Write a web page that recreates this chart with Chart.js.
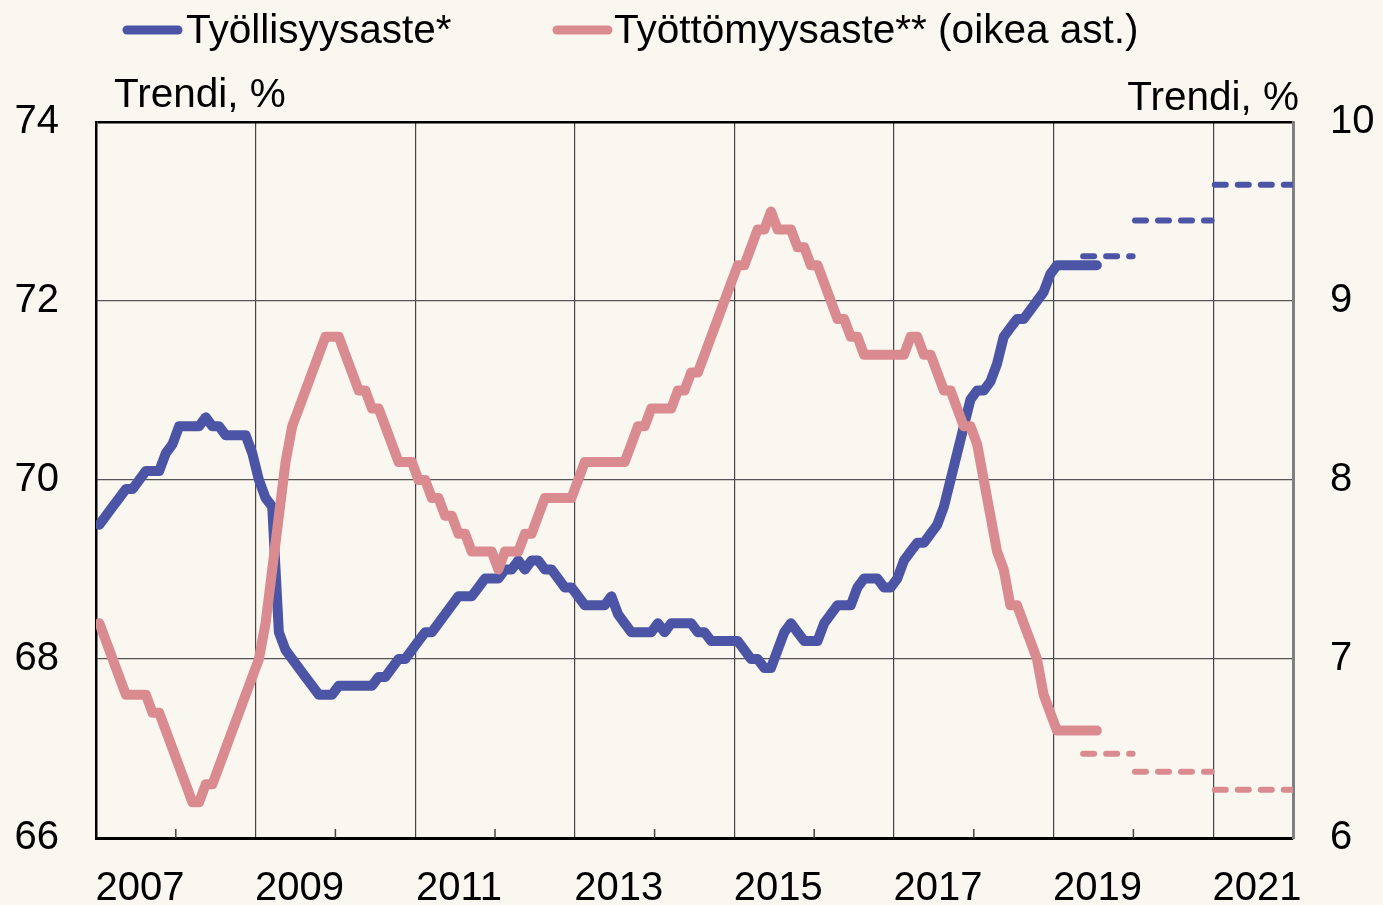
<!DOCTYPE html>
<html lang="fi">
<head>
<meta charset="utf-8">
<title>Työllisyysaste ja työttömyysaste</title>
<script src="https://cdn.jsdelivr.net/npm/chart.js@4.4.1/dist/chart.umd.min.js"></script>
<style>
    html, body { margin: 0; padding: 0; background: #faf6f0; }
    #wrap { width: 1383px; height: 905px; position: relative; }
</style>
</head>
<body>
<div id="wrap"><canvas id="chart"></canvas></div>
<script>
// Kuukausittaiset trendiluvut, tammikuu 2007 - heinäkuu 2019
const firstYear = 2007;

const employmentRate = [
    69.5, 69.6, 69.7, 69.8, 69.9, 69.9, 70.0, 70.1, 70.1, 70.1, 70.3, 70.4,
    70.6, 70.6, 70.6, 70.6, 70.7, 70.6, 70.6, 70.5, 70.5, 70.5, 70.5, 70.3,
    70.0, 69.8, 69.7, 68.3, 68.1, 68.0, 67.9, 67.8, 67.7, 67.6, 67.6, 67.6,
    67.7, 67.7, 67.7, 67.7, 67.7, 67.7, 67.8, 67.8, 67.9, 68.0, 68.0, 68.1,
    68.2, 68.3, 68.3, 68.4, 68.5, 68.6, 68.7, 68.7, 68.7, 68.8, 68.9, 68.9,
    68.9, 69.0, 69.0, 69.1, 69.0, 69.1, 69.1, 69.0, 69.0, 68.9, 68.8, 68.8,
    68.7, 68.6, 68.6, 68.6, 68.6, 68.7, 68.5, 68.4, 68.3, 68.3, 68.3, 68.3,
    68.4, 68.3, 68.4, 68.4, 68.4, 68.4, 68.3, 68.3, 68.2, 68.2, 68.2, 68.2,
    68.2, 68.1, 68.0, 68.0, 67.9, 67.9, 68.1, 68.3, 68.4, 68.3, 68.2, 68.2,
    68.2, 68.4, 68.5, 68.6, 68.6, 68.6, 68.8, 68.9, 68.9, 68.9, 68.8, 68.8,
    68.9, 69.1, 69.2, 69.3, 69.3, 69.4, 69.5, 69.7, 70.0, 70.3, 70.6, 70.9,
    71.0, 71.0, 71.1, 71.3, 71.6, 71.7, 71.8, 71.8, 71.9, 72.0, 72.1, 72.3,
    72.4, 72.4, 72.4, 72.4, 72.4, 72.4, 72.4
];

const unemploymentRate = [
    7.2, 7.1, 7.0, 6.9, 6.8, 6.8, 6.8, 6.8, 6.7, 6.7, 6.6, 6.5,
    6.4, 6.3, 6.2, 6.2, 6.3, 6.3, 6.4, 6.5, 6.6, 6.7, 6.8, 6.9,
    7.0, 7.2, 7.5, 7.8, 8.1, 8.3, 8.4, 8.5, 8.6, 8.7, 8.8, 8.8,
    8.8, 8.7, 8.6, 8.5, 8.5, 8.4, 8.4, 8.3, 8.2, 8.1, 8.1, 8.1,
    8.0, 8.0, 7.9, 7.9, 7.8, 7.8, 7.7, 7.7, 7.6, 7.6, 7.6, 7.6,
    7.5, 7.6, 7.6, 7.6, 7.7, 7.7, 7.8, 7.9, 7.9, 7.9, 7.9, 7.9,
    8.0, 8.1, 8.1, 8.1, 8.1, 8.1, 8.1, 8.1, 8.2, 8.3, 8.3, 8.4,
    8.4, 8.4, 8.4, 8.5, 8.5, 8.6, 8.6, 8.7, 8.8, 8.9, 9.0, 9.1,
    9.2, 9.2, 9.3, 9.4, 9.4, 9.5, 9.4, 9.4, 9.4, 9.3, 9.3, 9.2,
    9.2, 9.1, 9.0, 8.9, 8.9, 8.8, 8.8, 8.7, 8.7, 8.7, 8.7, 8.7,
    8.7, 8.7, 8.8, 8.8, 8.7, 8.7, 8.6, 8.5, 8.5, 8.4, 8.3, 8.3,
    8.2, 8.0, 7.8, 7.6, 7.5, 7.3, 7.3, 7.2, 7.1, 7.0, 6.8, 6.7,
    6.6, 6.6, 6.6, 6.6, 6.6, 6.6, 6.6
];

// Ennusteet vuositasolla (katkoviivat)
const forecastStart = [2019.37, 2020.02, 2021.02];
const forecastEnd = [2019.99, 2020.98, 2021.99];
const employmentForecast = [72.5, 72.9, 73.3];
const unemploymentForecast = [6.47, 6.37, 6.27];

// Akselit
const yearLabels = ['2007', '2009', '2011', '2013', '2015', '2017', '2019', '2021'];
const leftTicks = [66, 68, 70, 72, 74];
const rightTicks = [6, 7, 8, 9, 10];

const BLUE = '#4c55a5';
const PINK = '#da8b90';
const FONT = '"Liberation Sans", Arial, sans-serif';

const monthX = i => firstYear + (i + 0.5) / 12;

function forecastPoints(values) {
    const pts = [];
    values.forEach((v, i) => {
        pts.push({ x: forecastStart[i], y: v });
        pts.push({ x: forecastEnd[i], y: v });
        pts.push({ x: forecastEnd[i], y: null });
    });
    return pts;
}

// Selite, akselien otsikot ja pienet väliviivat
const headerPlugin = {
    id: 'header',
    afterDraw(chart) {
        const ctx = chart.ctx;
        const area = chart.chartArea;
        ctx.save();
        ctx.font = '40.5px ' + FONT;
        ctx.fillStyle = '#000';
        ctx.textBaseline = 'alphabetic';
        ctx.textAlign = 'left';

        const items = [
            { text: chart.data.datasets[1].label, color: BLUE, x: 127, tx: 186 },
            { text: chart.data.datasets[0].label, color: PINK, x: 557, tx: 614 }
        ];
        items.forEach(it => {
            ctx.strokeStyle = it.color;
            ctx.lineWidth = 9;
            ctx.lineCap = 'round';
            ctx.beginPath();
            ctx.moveTo(it.x, 30);
            ctx.lineTo(it.x + 51, 30);
            ctx.stroke();
            ctx.fillText(it.text, it.tx, 43);
        });

        ctx.fillText('Trendi, %', 114, 107);
        ctx.textAlign = 'right';
        ctx.fillText('Trendi, %', 1299, 110);

        // väliviivat parillisille vuosille
        ctx.strokeStyle = '#444';
        ctx.lineWidth = 1.5;
        ctx.lineCap = 'butt';
        for (let y = 2008; y <= 2020; y += 2) {
            const px = chart.scales.x.getPixelForValue(y);
            ctx.beginPath();
            ctx.moveTo(px, area.bottom);
            ctx.lineTo(px, area.bottom - 9);
            ctx.stroke();
        }
        ctx.restore();
    }
};

Chart.defaults.font.family = FONT;
Chart.defaults.font.size = 40;
Chart.defaults.color = '#000';

new Chart(document.getElementById('chart'), {
    type: 'line',
    data: {
        datasets: [
            {
                label: 'Työttömyysaste** (oikea ast.)',
                data: unemploymentRate.map((v, i) => ({ x: monthX(i), y: v })),
                yAxisID: 'y1',
                borderColor: PINK,
                borderWidth: 10,
                order: 1
            },
            {
                label: 'Työllisyysaste*',
                data: employmentRate.map((v, i) => ({ x: monthX(i), y: v })),
                yAxisID: 'y',
                borderColor: BLUE,
                borderWidth: 10,
                order: 2
            },
            {
                label: 'Työllisyysaste, ennuste',
                data: forecastPoints(employmentForecast),
                yAxisID: 'y',
                borderColor: BLUE,
                borderWidth: 6,
                borderDash: [11, 12],
                order: 3
            },
            {
                label: 'Työttömyysaste, ennuste',
                data: forecastPoints(unemploymentForecast),
                yAxisID: 'y1',
                borderColor: PINK,
                borderWidth: 6,
                borderDash: [11, 12],
                order: 3
            }
        ]
    },
    options: {
        responsive: true,
        maintainAspectRatio: false,
        animation: false,
        layout: { padding: { top: 122, left: 0, right: 0, bottom: 0 } },
        elements: {
            point: { radius: 0 },
            line: {
                tension: 0,
                borderCapStyle: 'round',
                borderJoinStyle: 'round',
                fill: false
            }
        },
        datasets: { line: { clip: 0, spanGaps: false } },
        plugins: {
            legend: { display: false },
            tooltip: { enabled: false }
        },
        scales: {
            x: {
                type: 'linear',
                min: firstYear,
                max: 2022,
                afterBuildTicks: axis => {
                    const ticks = [];
                    yearLabels.forEach(l => {
                        ticks.push({ value: Number(l) });
                        ticks.push({ value: Number(l) + 0.55 });
                    });
                    axis.ticks = ticks;
                },
                afterFit: axis => { axis.height = 67; },
                ticks: {
                    autoSkip: false,
                    maxRotation: 0,
                    minRotation: 0,
                    padding: 27,
                    callback: v => {
                        const year = String(Math.floor(v));
                        return (v % 1 !== 0 && yearLabels.includes(year)) ? year : '';
                    }
                },
                grid: {
                    drawTicks: false,
                    tickLength: 0,
                    lineWidth: 1.2,
                    color: ctx => (ctx.tick && ctx.tick.value % 1 === 0 && ctx.tick.value !== firstYear) ? '#444' : 'rgba(0,0,0,0)'
                },
                border: { color: '#000', width: 3 }
            },
            y: {
                position: 'left',
                min: leftTicks[0],
                max: leftTicks[leftTicks.length - 1],
                afterBuildTicks: axis => { axis.ticks = leftTicks.map(v => ({ value: v })); },
                afterFit: axis => { axis.width = 96; },
                ticks: { padding: 37 },
                grid: {
                    drawTicks: false,
                    tickLength: 0,
                    lineWidth: ctx => (ctx.tick && ctx.tick.value === 74) ? 2.5 : 1.2,
                    color: ctx => {
                        if (!ctx.tick) return '#555';
                        if (ctx.tick.value === 74) return '#000';
                        if (ctx.tick.value === 66) return 'rgba(0,0,0,0)';
                        return '#555';
                    }
                },
                border: { color: '#000', width: 2.5 }
            },
            y1: {
                position: 'right',
                min: rightTicks[0],
                max: rightTicks[rightTicks.length - 1],
                afterBuildTicks: axis => { axis.ticks = rightTicks.map(v => ({ value: v })); },
                afterFit: axis => { axis.width = 90; },
                ticks: { padding: 37 },
                grid: { drawOnChartArea: false, drawTicks: false, tickLength: 0 },
                border: { color: '#808080', width: 3 }
            }
        }
    },
    plugins: [headerPlugin]
});
</script>
</body>
</html>
